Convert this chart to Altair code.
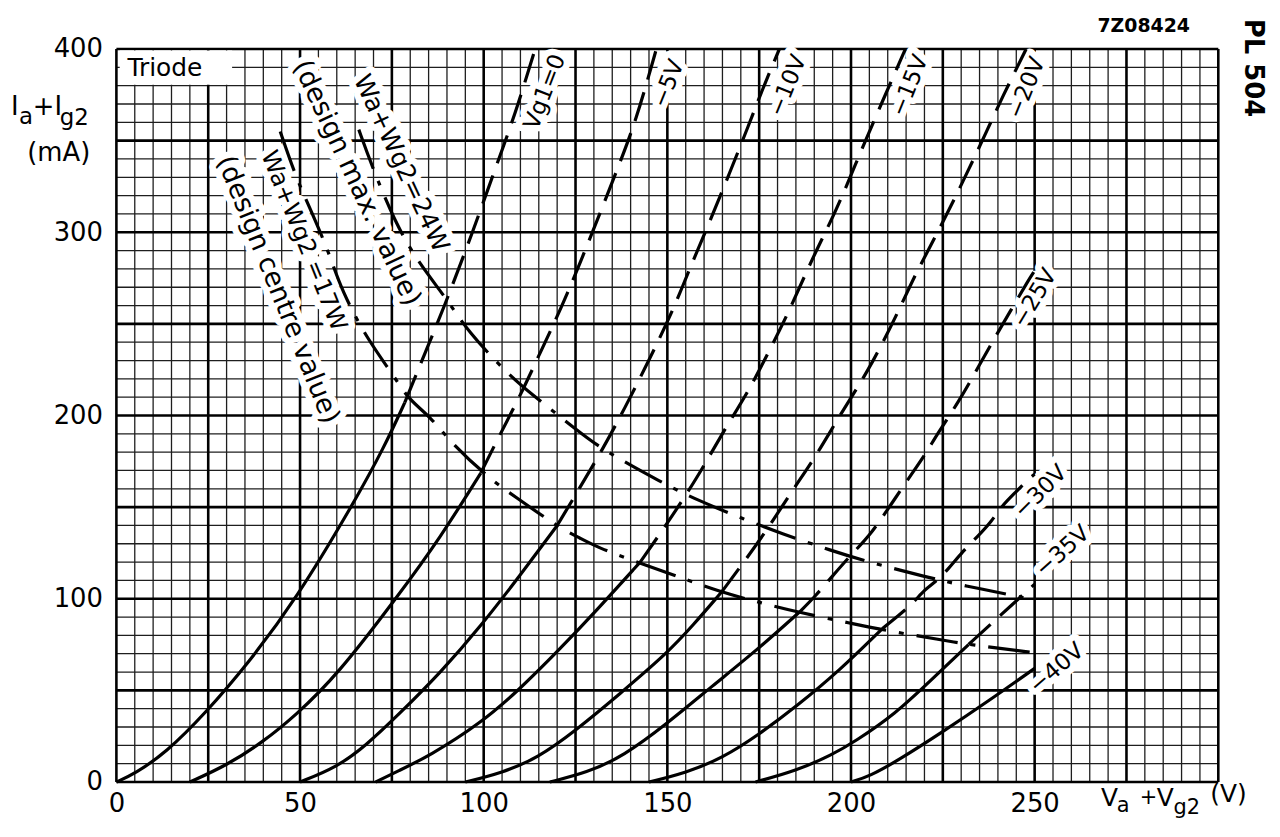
import altair as alt
import pandas as pd

# ---------------- data ----------------
# Each grid-voltage curve: solid part (below the 17 W line) and dashed part above it.
g0_solid_v = [0, 5, 13.5, 24, 36, 49, 64, 73, 78.5]
g0_solid_i = [0, 4.5, 16, 37, 65, 100, 150, 183, 207]
g0_dash_v = [78.5, 84, 89, 97, 103, 108.5, 114]
g0_dash_i = [207, 234, 258, 300, 334, 364, 400]

g5_solid_v = [20, 30, 40, 48.6, 60, 76.7, 88.4, 99.2]
g5_solid_i = [0, 9, 22, 36, 58, 101.6, 134, 168.6]
g5_dash_v = [99.2, 104, 110, 115.3, 121.2, 126.6, 131.6, 136.5, 141.5, 147]
g5_dash_i = [168.6, 188, 211, 234, 259, 285, 310, 335, 361, 400]

g10_solid_v = [50, 60, 68, 76.7, 88.4, 99.2, 110, 120]
g10_solid_i = [0, 8, 20, 36.5, 60, 85, 113, 140]
g10_dash_v = [120, 126, 132.5, 138.3, 145.1, 151.4, 155.9, 161.3, 166.8, 172.2, 175.8, 180.5]
g10_dash_i = [140, 160, 182, 203.5, 230.6, 256.7, 279.3, 304.6, 331.6, 358.7, 377.6, 400]

g15_solid_v = [70.6, 76.7, 85, 99.2, 110, 120, 130.9, 142.6]
g15_solid_i = [0, 6, 14, 32, 51, 71, 94, 120]
g15_dash_v = [142.6, 148.9, 157.9, 166, 171.5, 177.8, 183.2, 189.5, 195.8, 201.2, 206.7, 214.8]
g15_dash_i = [120, 138, 165, 194, 211, 235.5, 257, 286, 311, 337, 363, 400]

g20_solid_v = [95, 105, 114.6, 125, 137, 149.8, 157, 164.7]
g20_solid_i = [0, 5, 13, 28, 48, 70, 85.5, 103.5]
g20_dash_v = [164.7, 171.4, 177.8, 184, 189.5, 194, 198.5, 205.8, 213.9, 217.5, 223.8, 230.1, 237.4, 241, 247.7]
g20_dash_i = [103.5, 121.5, 139.6, 159, 175, 190, 205, 228, 261, 277, 300.6, 326, 357, 373, 400]

g25_solid_v = [118, 128, 138, 150, 162, 175, 185.9]
g25_solid_i = [0, 5, 14, 32, 52, 73, 92.6]
g25_dash_v = [185.9, 190.4, 195, 200, 204.9, 209.4, 212.1, 216.1, 220, 223.8, 229.2, 235.1, 239, 243.7, 248.2, 250]
g25_dash_i = [92.6, 101.6, 112.5, 124, 134, 147, 155, 167, 178, 191, 207, 228, 242, 258, 273.5, 279]

g30_solid_v = [145, 155, 165, 175, 185, 197, 208.5]
g30_solid_i = [0, 5, 13, 26, 41, 61, 83.6]
g30_dash_v = [208.5, 213, 216.6, 220.2, 222.9, 226.5, 230.1, 234.6, 238.3, 241, 244.6, 248.2, 250]
g30_dash_i = [83.6, 91, 97, 105.3, 109, 116.1, 125.2, 134.2, 142.3, 150.5, 157.7, 165, 168]

g35_solid_v = [174, 185, 195, 201, 212, 222, 232]
g35_solid_i = [0, 6, 15, 22, 37, 56, 75]
g35_dash_v = [232, 238, 244, 250]
g35_dash_i = [75, 86, 97, 108]

g40_solid_v = [200, 205, 213, 224.7, 237.3, 250]
g40_solid_i = [0, 3, 12, 27, 44, 62]

# dissipation limit curves
w24_v = [66, 69.4, 75.7, 82, 90.2, 95.6, 106.4, 112.8, 125.4, 132.6, 148.9, 157.9, 171.4,
         180.5, 195, 204.9, 220.2, 231, 246.4, 250]
w24_i = [356, 337, 306, 284, 263, 246, 223, 212, 192, 181, 163, 154, 143,
         136, 126, 120, 112, 107, 101, 99]
w17_v = [44.6, 48.7, 52.3, 57.7, 61.3, 68.5, 75.8, 79.4, 85.7, 91.1, 101.9, 108.3, 120.4,
         126.3, 131, 141.7, 152.5, 163.8, 176, 185.9, 200.3, 208.5, 224.7, 232, 250]
w17_i = [355, 331, 315, 290, 268, 241, 221, 209, 199, 185, 165, 156, 139,
         133, 128, 120, 112.5, 104, 97.5, 92.5, 86.5, 83, 77.5, 75, 70.5]

# curve labels
curve_label_text = ["Vg1=0", "\u22125V", "\u221210V", "\u221215V", "\u221220V",
                    "\u221225V", "\u221230V", "\u221235V", "\u221240V"]
curve_label_v = [116.7, 150.3, 182.8, 216, 247.8, 250, 251.6, 257.6, 256]
curve_label_i = [376.6, 381, 380, 380, 378.7, 264, 158.4, 125.9, 62]
curve_label_angle = [291, 292, 292, 292, 292, 301, 315, 318, 319]

power_label_text = ["Wa+Wg2=24W", "(design max. value)", "Wa+Wg2 =17W", "(design centre value)"]
power_label_v = [77.6, 65.4, 50.9, 43.9]
power_label_i = [337.7, 326.8, 295.2, 268.6]
power_label_angle = [65, 65, 68, 68]

x_ticks = [0, 50, 100, 150, 200, 250]
y_ticks = [0, 100, 200, 300, 400]

# ---------------- tables ----------------
curves = [
    ("0", g0_solid_v, g0_solid_i, g0_dash_v, g0_dash_i),
    ("-5", g5_solid_v, g5_solid_i, g5_dash_v, g5_dash_i),
    ("-10", g10_solid_v, g10_solid_i, g10_dash_v, g10_dash_i),
    ("-15", g15_solid_v, g15_solid_i, g15_dash_v, g15_dash_i),
    ("-20", g20_solid_v, g20_solid_i, g20_dash_v, g20_dash_i),
    ("-25", g25_solid_v, g25_solid_i, g25_dash_v, g25_dash_i),
    ("-30", g30_solid_v, g30_solid_i, g30_dash_v, g30_dash_i),
    ("-35", g35_solid_v, g35_solid_i, g35_dash_v, g35_dash_i),
    ("-40", g40_solid_v, g40_solid_i, [], []),
]
solid_rows, dash_rows = [], []
for name, sv, si, dv, di in curves:
    solid_rows += [{"V": v, "I": i, "curve": name} for v, i in zip(sv, si)]
    dash_rows += [{"V": v, "I": i, "curve": name} for v, i in zip(dv, di)]
solid_df = pd.DataFrame(solid_rows)
dash_df = pd.DataFrame(dash_rows)
power_df = pd.DataFrame(
    [{"V": v, "I": i, "curve": "24W"} for v, i in zip(w24_v, w24_i)]
    + [{"V": v, "I": i, "curve": "17W"} for v, i in zip(w17_v, w17_i)]
)
curve_lab_df = pd.DataFrame({"V": curve_label_v, "I": curve_label_i,
                             "text": curve_label_text, "angle": curve_label_angle})
power_lab_df = pd.DataFrame({"V": power_label_v, "I": power_label_i,
                             "text": power_label_text, "angle": power_label_angle,
                             "size": [25, 27, 24, 27]})

grid_minor_v = pd.DataFrame({"V": [v for v in range(0, 301, 5) if v % 25]})
grid_major_v = pd.DataFrame({"V": list(range(0, 301, 25))})
grid_minor_i = pd.DataFrame({"I": [i for i in range(0, 401, 10) if i % 50]})
grid_major_i = pd.DataFrame({"I": list(range(0, 401, 50))})
triode_box = pd.DataFrame({"V": [0.9], "V2": [31.5], "I": [380.5], "I2": [399.2]})
triode_txt = pd.DataFrame({"V": [3.0], "I": [389.6], "text": ["Triode"]})

# ---------------- encodings ----------------
FONT = "DejaVu Sans"
W, H = 1108, 737
xscale = alt.Scale(domain=[0, 300], nice=False, zero=False)
yscale = alt.Scale(domain=[0, 400], nice=False, zero=False)
xaxis = alt.Axis(values=x_ticks, title=None, grid=False, ticks=False, domain=False,
                 labelFont=FONT, labelFontSize=26, labelColor="black",
                 labelPadding=9, labelFlush=False, labelOverlap=False)
yaxis = alt.Axis(values=y_ticks, title=None, grid=False, ticks=False, domain=False,
                 labelFont=FONT, labelFontSize=26, labelColor="black",
                 labelPadding=14, labelFlush=False, labelOverlap=False)
X = alt.X("V:Q", scale=xscale, axis=xaxis)
Y = alt.Y("I:Q", scale=yscale, axis=yaxis)

layers = []
layers.append(alt.Chart(grid_minor_v).mark_rule(color="#1e1e1e", strokeWidth=1.3).encode(x=X))
layers.append(alt.Chart(grid_minor_i).mark_rule(color="#1e1e1e", strokeWidth=1.3).encode(y=Y))
layers.append(alt.Chart(grid_major_v).mark_rule(color="black", strokeWidth=2.6).encode(x=X))
layers.append(alt.Chart(grid_major_i).mark_rule(color="black", strokeWidth=2.6).encode(y=Y))
layers.append(alt.Chart(triode_box).mark_rect(color="white").encode(x=X, x2="V2:Q", y=Y, y2="I2:Q"))

# white halos behind labels
layers.append(alt.Chart(curve_lab_df).mark_text(
    font=FONT, fontSize=23, color="white", stroke="white", strokeWidth=13,
    strokeJoin="round", align="center", baseline="middle").encode(
    x=X, y=Y, text="text:N", angle=alt.Angle("angle:Q", scale=None)))
layers.append(alt.Chart(power_lab_df).mark_text(
    font=FONT, color="white", stroke="white", strokeWidth=13,
    strokeJoin="round", align="center", baseline="middle").encode(
    x=X, y=Y, text="text:N", angle=alt.Angle("angle:Q", scale=None),
    size=alt.Size("size:Q", scale=None)))

# curves
layers.append(alt.Chart(solid_df).mark_line(color="black", strokeWidth=3.2, interpolate="basis").encode(
    x=X, y=Y, detail="curve:N"))
layers.append(alt.Chart(dash_df).mark_line(color="black", strokeWidth=3.2, interpolate="basis",
                                           strokeDash=[30, 13]).encode(x=X, y=Y, detail="curve:N"))
layers.append(alt.Chart(power_df).mark_line(color="black", strokeWidth=3.2, interpolate="basis",
                                            strokeDash=[42, 13, 5, 13]).encode(x=X, y=Y, detail="curve:N"))

# label texts
layers.append(alt.Chart(curve_lab_df).mark_text(
    font=FONT, fontSize=23, color="black", align="center", baseline="middle").encode(
    x=X, y=Y, text="text:N", angle=alt.Angle("angle:Q", scale=None)))
layers.append(alt.Chart(power_lab_df).mark_text(
    font=FONT, color="black", align="center", baseline="middle").encode(
    x=X, y=Y, text="text:N", angle=alt.Angle("angle:Q", scale=None),
    size=alt.Size("size:Q", scale=None)))
layers.append(alt.Chart(triode_txt).mark_text(
    font=FONT, fontSize=25, color="black", align="left", baseline="middle").encode(
    x=X, y=Y, text="text:N"))

# free annotations (pixel positions relative to plot origin)
dummy = pd.DataFrame({"k": [0]})


def ptext(txt, x, y, size, align="left", baseline="alphabetic", angle=0, weight="normal"):
    mk = dict(text=txt, font=FONT, fontSize=size, color="black", align=align,
              baseline=baseline, fontWeight=weight)
    if angle:
        mk["angle"] = angle
    return alt.Chart(dummy).mark_text(**mk).encode(x=alt.value(x), y=alt.value(y))


# y axis title  I_a + I_g2 (mA)
layers += [
    ptext("I", -106, 66, 26),
    ptext("a", -98, 75, 23),
    ptext("+I", -84, 66, 26),
    ptext("g2", -57, 76, 23),
    ptext("(mA)", -58, 113, 26, align="center"),
]
# x axis title  V_a + V_g2 (V)
layers += [
    ptext("V", 990, 761, 25),
    ptext("a", 1006, 767, 21),
    ptext("+", 1029, 759, 21),
    ptext("V", 1046, 761, 25),
    ptext("g2", 1063, 769, 21),
    ptext("(V)", 1100, 757, 25),
]
layers.append(ptext("7Z08424", 1033, -23, 19, align="center", baseline="middle", weight="bold"))
layers.append(ptext("PL 504", 1143, 19, 26, align="center", baseline="middle", angle=90, weight="bold"))

chart = alt.layer(*layers).properties(
    width=W, height=H,
    padding={"left": 109, "top": 39, "right": 54, "bottom": 40},
    autosize=alt.AutoSizeParams(type="none"),
    background="white",
).configure_view(strokeWidth=0)

chart.save("out.html", embed_options={"renderer": "svg", "actions": False})
